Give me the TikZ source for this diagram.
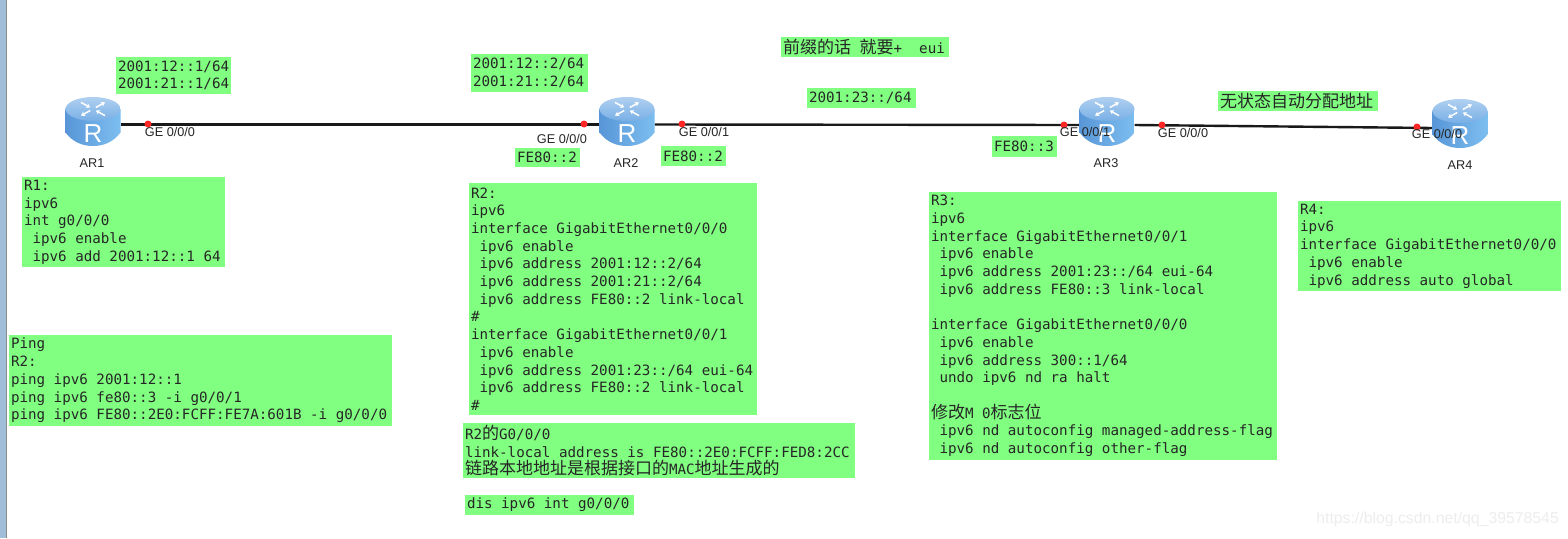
\documentclass[tikz,border=0pt]{standalone}
\usepackage{fontspec}
\setsansfont{Liberation Sans}
\setmonofont{DejaVu Sans Mono}
\newfontfamily\cjk{Noto Sans CJK SC}
\usetikzlibrary{arrows.meta}
\definecolor{NoteGreen}{RGB}{128,255,128}
\definecolor{SideBar}{RGB}{160,190,216}
\definecolor{RouterTopA}{RGB}{176,208,240}
\definecolor{RouterTopB}{RGB}{120,175,230}
\definecolor{RouterSideA}{RGB}{88,150,215}
\definecolor{RouterSideB}{RGB}{50,130,220}
\definecolor{RouterSideC}{RGB}{125,190,240}
\newcommand{\zh}[1]{{\cjk\fontsize{17}{17.7}\selectfont #1}}
\tikzset{
  router/.pic={
    \shade[left color=RouterSideA,middle color=RouterSideB,right color=RouterSideC]
      (-27.5,-12.5) -- (-27.5,11) .. controls (-20,21) and (-10,24.5) .. (0,24.5)
      .. controls (10,24.5) and (20,21) .. (27.5,11) -- (27.5,-12.5) -- cycle;
    \shade[top color=RouterTopA,bottom color=RouterTopB] (0,-12.5) ellipse [x radius=27.5,y radius=12];
    \foreach \a/\s/\e in {45/4/17,225/4/17,135/17/4,315/17/4} {
      \draw[white,line width=1.5pt,-{Stealth[length=4pt,width=5pt]},shift={(0,-12.5)},yscale=0.55,rotate=\a] (\s,0) -- (\e,0);
    }
    \node[text=white,font=\sffamily\fontsize{26}{26}\selectfont,inner sep=0pt] (R) at (0,12.5) {R};
  }
}
\begin{document}
\begin{tikzpicture}[x=1pt,y=-1pt,
  grp/.style n args={2}{fill=NoteGreen,anchor=north west,inner sep=2pt,outer sep=0pt,minimum height=#2,text width=#1-4pt,align=left,font=\ttfamily\fontsize{14.2}{17.7}\selectfont,execute at begin node={\frenchspacing\spaceskip=8.55pt\relax},text=black!85},
  routernode/.style={minimum width=55pt,minimum height=49pt,inner sep=0pt,outer sep=0pt},
  port/.style={circle,fill=red!85!white,minimum size=7pt,inner sep=0pt},
  portlbl/.style={font=\sffamily\fontsize{12.7}{14}\selectfont,inner sep=0pt,text=black!85},
  link/.style={line width=2.4pt,black!90}]
\useasboundingbox (0,0) rectangle (1568,538);
\fill[white] (0,0) rectangle (1568,538);
\fill[SideBar] (0,0) rectangle (7,538);
\draw[black!45] (6.5,0) -- (6.5,538);
\foreach \name/\x/\y in {ar1/93/124.5,ar2/627/124.5,ar3/1107/125,ar4/1460/128} {
  \node[routernode] (\name) at (\x,\y) {};
}
\draw[link] (ar1.east) -- (ar2.west);
\draw[link] (ar2.east) -- (ar3.west);
\draw[link] (ar3.east) -- (ar4.west);
\foreach \name/\d in {ar1/3,ar2/3,ar3/3.5,ar4/4.5} {
  \pic (\name icon) at ([yshift=\d pt]\name) {router};
}
\foreach \name/\x/\y/\lx/\ly/\txt in {pa/148/124/170/132/GE 0\slash 0\slash 0,pb/584/124/562/139/GE 0\slash 0\slash 0,pc/682/124/704/132/GE 0\slash 0\slash 1,pd/1064/125/1085/132/GE 0\slash 0\slash 1,pe/1162/125/1183/133/GE 0\slash 0\slash 0,pf/1417/127/1437/134/GE 0\slash 0\slash 0} {
  \node[port] (\name) at (\x,\y) {};
  \node[portlbl] (\name lbl) at (\lx,\ly) {\txt};
}
\foreach \name/\x/\y/\txt in {ar1/92/163/AR1,ar2/626/163/AR2,ar3/1106/163/AR3,ar4/1460/165/AR4} {
  \node[portlbl] (\name lbl) at (\x,\y) {\txt};
}
% addresses
\node[grp={115pt}{37pt}] (n1) at (116,57) {2001:12::1/64\\2001:21::1/64};
\node[grp={117pt}{38pt}] (n2) at (471,54) {2001:12::2/64\\2001:21::2/64};
\node[grp={168pt}{19pt}] (n3) at (781,37) {\zh{前缀的话} \zh{就要}+\ \ eui};
\node[grp={109pt}{20pt}] (n4) at (807,88) {2001:23::/64};
\node[grp={160pt}{20pt}] (n5) at (1218,91) {\zh{无状态自动分配地址}};
\node[grp={65pt}{19pt}] (n6) at (515,148) {FE80::2};
\node[grp={65pt}{20pt}] (n7) at (661,146) {FE80::2};
\node[grp={65pt}{21pt}] (n8) at (992,136) {FE80::3};
% configs
\node[grp={203pt}{90pt}] (r1) at (22,177) {R1:\\ipv6\\int g0/0/0\\\ ipv6 enable\\\ ipv6 add 2001:12::1 64};
\node[grp={383pt}{91pt}] (ping) at (9,335) {Ping\\R2:\\ping ipv6 2001:12::1\\ping ipv6 fe80::3 -i g0/0/1\\ping ipv6 FE80::2E0:FCFF:FE7A:601B -i g0/0/0};
\node[grp={288pt}{232pt}] (r2) at (469,183) {R2:\\ipv6\\interface GigabitEthernet0/0/0\\\ ipv6 enable\\\ ipv6 address 2001:12::2/64\\\ ipv6 address 2001:21::2/64\\\ ipv6 address FE80::2 link-local\\\#\\interface GigabitEthernet0/0/1\\\ ipv6 enable\\\ ipv6 address 2001:23::/64 eui-64\\\ ipv6 address FE80::2 link-local\\\#};
\node[grp={348pt}{268pt}] (r3) at (929,192) {R3:\\ipv6\\interface GigabitEthernet0/0/1\\\ ipv6 enable\\\ ipv6 address 2001:23::/64 eui-64\\\ ipv6 address FE80::3 link-local\\\mbox{}\\interface GigabitEthernet0/0/0\\\ ipv6 enable\\\ ipv6 address 300::1/64\\\ undo ipv6 nd ra halt\\\mbox{}\\\zh{修改}M 0\zh{标志位}\\\ ipv6 nd autoconfig managed-address-flag\\\ ipv6 nd autoconfig other-flag};
\node[grp={263pt}{90pt}] (r4) at (1298,201) {R4:\\ipv6\\interface GigabitEthernet0/0/0\\\ ipv6 enable\\\ ipv6 address auto global};
\node[grp={392pt}{55pt}] (g0) at (463,423) {R2\zh{的}G0/0/0\\link-local address is FE80::2E0:FCFF:FED8:2CC\\\zh{链路本地地址是根据接口的}MAC\zh{地址生成的}};
\node[grp={169pt}{20pt}] (dis) at (465,495) {dis ipv6 int g0/0/0};
\node[font=\sffamily\fontsize{15.8}{16}\selectfont,text=black!7,anchor=east,inner sep=0pt] (mark) at (1559,519) {https://blog.csdn.net/qq\_39578545};
\end{tikzpicture}
\end{document}
